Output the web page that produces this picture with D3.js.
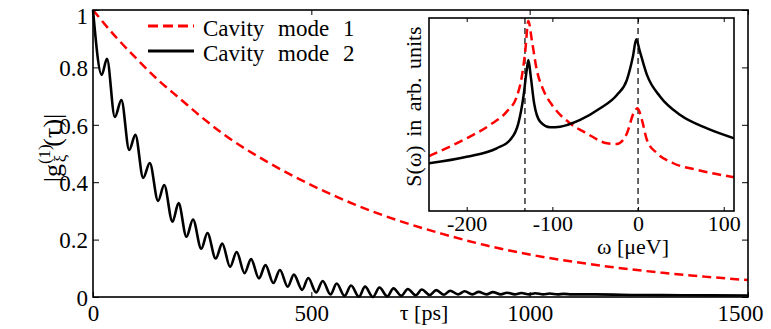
<!DOCTYPE html>
<html>
<head>
<meta charset="utf-8">
<script src="https://cdn.jsdelivr.net/npm/d3@7"></script>
<style>
  body { margin: 0; background: #fff; }
</style>
</head>
<body>
<div id="chart"></div>
<script>
// main panel: |g(1)(tau)| for the two cavity modes
const tauRed = [0, 50, 100, 150, 200, 250, 300, 400, 500, 600, 700, 800, 900, 1000, 1100, 1200, 1300, 1400, 1500];
const gRed = [1.0, 0.91, 0.83, 0.755, 0.69, 0.625, 0.566, 0.47, 0.39, 0.322, 0.266, 0.22, 0.18, 0.148, 0.123, 0.102, 0.085, 0.071, 0.059];

// peaks and valleys of the oscillating mode 2 curve
const tauBlack = [0, 20, 32, 50, 65, 83, 97, 115, 130, 149, 163, 182, 196, 214, 229, 248, 262, 281, 296, 314,
  329, 347, 362, 380, 395, 413, 428, 446, 460, 479, 493, 511, 526, 544, 558, 576, 591, 609, 623, 641,
  656, 674, 688, 706, 721, 739, 753, 771, 786, 804, 818, 836, 851, 869, 883, 901, 916, 934, 948, 966,
  981, 999, 1013, 1031, 1046, 1064, 1078, 1096, 1150, 1250, 1350, 1500];
const gBlack = [1.0, 0.774, 0.83, 0.627, 0.686, 0.512, 0.565, 0.415, 0.467, 0.335, 0.39, 0.262, 0.327, 0.21, 0.27, 0.168, 0.223, 0.134, 0.186, 0.105,
  0.157, 0.083, 0.132, 0.065, 0.111, 0.049, 0.094, 0.036, 0.078, 0.025, 0.066, 0.016, 0.056, 0.009, 0.047, 0.004, 0.040, 0.001, 0.036, 0.0,
  0.033, 0.002, 0.030, 0.004, 0.028, 0.006, 0.026, 0.007, 0.024, 0.008, 0.022, 0.009, 0.020, 0.009, 0.018, 0.009, 0.017, 0.009, 0.015, 0.009,
  0.014, 0.009, 0.013, 0.009, 0.012, 0.009, 0.011, 0.009, 0.009, 0.007, 0.006, 0.005];

const xTicks = [0, 500, 1000, 1500];
const yTicks = [0, 0.2, 0.4, 0.6, 0.8, 1];
const legendLabels = ["Cavity mode 1", "Cavity mode 2"];

// inset: spectra S(omega)
const omegaRed = [-244, -204, -172.8, -153.3, -141.6, -135.7, -131.9, -128, -124, -118.2, -110.5, -98.8, -79.3, -59.8, -36.4, -24.7, -13, -5.3, -0.6, 4.5, 10.4, 22, 40, 70, 112];
const sRed = [0.285, 0.368, 0.446, 0.515, 0.592, 0.696, 0.817, 0.985, 0.886, 0.731, 0.627, 0.54, 0.454, 0.402, 0.351, 0.347, 0.402, 0.506, 0.532, 0.472, 0.368, 0.3, 0.25, 0.212, 0.175];
const omegaBlack = [-244, -200, -165, -149.4, -139.7, -133.8, -129.9, -128, -125.2, -121.3, -114.3, -102.6, -90.9, -67.6, -44.2, -24.7, -13, -6, -2.1, 1.7, 10.4, 25.9, 49.3, 80.5, 112];
const sBlack = [0.247, 0.281, 0.325, 0.368, 0.454, 0.592, 0.731, 0.782, 0.696, 0.558, 0.463, 0.434, 0.437, 0.472, 0.532, 0.601, 0.679, 0.8, 0.89, 0.834, 0.705, 0.592, 0.497, 0.428, 0.377];
const omegaTicks = [-200, -100, 0, 100];
const omegaMarks = [-132, 0];

const FONT = "'Liberation Serif', 'Times New Roman', serif";

const width = 771, height = 329;
const svg = d3.select("#chart").append("svg")
  .attr("width", width)
  .attr("height", height)
  .style("font-family", FONT);

const x = d3.scaleLinear().domain([0, 1500]).range([93, 748]);
const y = d3.scaleLinear().domain([0, 1]).range([297, 10]);

const line = d3.line()
  .x(d => x(d[0]))
  .y(d => y(d[1]))
  .curve(d3.curveMonotoneX);

svg.append("path")
  .datum(tauRed.map((t, i) => [t, gRed[i]]))
  .attr("d", line)
  .attr("fill", "none")
  .attr("stroke", "#ff0000")
  .attr("stroke-width", 2.5)
  .attr("stroke-dasharray", "9,5");

svg.append("path")
  .datum(tauBlack.map((t, i) => [t, gBlack[i]]))
  .attr("d", line)
  .attr("fill", "none")
  .attr("stroke", "#000")
  .attr("stroke-width", 2.6)
  .attr("stroke-linejoin", "round");

// axes, ticks pointing inward
const fmt = d3.format("~g");
const gx = svg.append("g").attr("transform", `translate(0,${y(0)})`)
  .call(d3.axisBottom(x).tickValues(xTicks).tickSize(-5).tickPadding(6).tickFormat(fmt));
svg.append("g").attr("transform", `translate(0,${y(1)})`)
  .call(d3.axisTop(x).tickValues(xTicks).tickSize(-5).tickFormat(""));
const gy = svg.append("g").attr("transform", `translate(${x(0)},0)`)
  .call(d3.axisLeft(y).tickValues(yTicks).tickSize(-6).tickPadding(5).tickFormat(fmt));
svg.append("g").attr("transform", `translate(${x(1500)},0)`)
  .call(d3.axisRight(y).tickValues(yTicks).tickSize(-6).tickFormat(""));

svg.selectAll(".domain").remove();
svg.selectAll("g").attr("font-family", null);
svg.selectAll(".tick line").attr("stroke", "#000").attr("stroke-width", 1);
gx.selectAll("text").style("font-size", "23px").style("font-family", FONT).attr("dy", "0.78em");
gy.selectAll("text").style("font-size", "23px").style("font-family", FONT).attr("dy", "0.36em");
gy.selectAll(".tick").filter(d => d === 1).select("text").attr("dy", "0.58em");
gx.selectAll(".tick").filter(d => d === 1500).select("text").attr("dx", "-8");

svg.append("rect")
  .attr("x", x(0)).attr("y", y(1))
  .attr("width", x(1500) - x(0)).attr("height", y(0) - y(1))
  .attr("fill", "none").attr("stroke", "#000").attr("stroke-width", 1.6);

svg.append("text")
  .attr("x", 424).attr("y", 320)
  .attr("text-anchor", "middle")
  .style("font-size", "22px")
  .style("font-family", FONT)
  .text("τ [ps]");

// y label |g_ξ^(1)(τ)|
const ylab = svg.append("text")
  .attr("transform", "translate(61,148) rotate(-90)")
  .attr("text-anchor", "middle")
  .style("font-size", "26px")
  .style("font-family", FONT);
ylab.append("tspan").text("|g");
ylab.append("tspan").attr("dy", -11).style("font-size", "17px").text("(1)");
ylab.append("tspan").attr("dx", -18).attr("dy", 16).style("font-size", "17px").text("ξ");
ylab.append("tspan").attr("dx", 8).attr("dy", -5).text("(τ)|");

// legend
const legend = svg.append("g");
legendLabels.forEach((lab, i) => {
  const ly = 26 + i * 25;
  legend.append("line")
    .attr("x1", 148).attr("x2", 194).attr("y1", ly).attr("y2", ly)
    .attr("stroke", i === 0 ? "#ff0000" : "#000")
    .attr("stroke-width", i === 0 ? 3 : 3.2)
    .attr("stroke-dasharray", i === 0 ? "10,5" : null);
  legend.append("text")
    .attr("x", 203).attr("y", ly + 10)
    .style("font-size", "23px")
    .style("font-family", FONT)
    .style("word-spacing", "8px")
    .text(lab);
});

// inset
const xi = d3.scaleLinear().domain([-244, 112]).range([429, 734]);
const yi = d3.scaleLinear().domain([0, 1]).range([211, 18]);

const inset = svg.append("g");
inset.append("rect")
  .attr("x", xi(-244)).attr("y", yi(1))
  .attr("width", xi(112) - xi(-244)).attr("height", yi(0) - yi(1))
  .attr("fill", "#fff");

svg.append("defs").append("clipPath").attr("id", "inset-clip")
  .append("rect")
  .attr("x", xi(-244)).attr("y", yi(1))
  .attr("width", xi(112) - xi(-244)).attr("height", yi(0) - yi(1));

const plot = inset.append("g").attr("clip-path", "url(#inset-clip)");

plot.selectAll(".mark")
  .data(omegaMarks)
  .enter()
  .append("line")
  .attr("class", "mark")
  .attr("x1", d => xi(d)).attr("x2", d => xi(d))
  .attr("y1", yi(1)).attr("y2", yi(0))
  .attr("stroke", "#000").attr("stroke-width", 1.2)
  .attr("stroke-dasharray", "6,4");

const lineI = d3.line()
  .x(d => xi(d[0]))
  .y(d => yi(d[1]))
  .curve(d3.curveMonotoneX);

plot.append("path")
  .datum(omegaRed.map((w, i) => [w, sRed[i]]))
  .attr("d", lineI)
  .attr("fill", "none")
  .attr("stroke", "#ff0000")
  .attr("stroke-width", 2.5)
  .attr("stroke-dasharray", "9,5");

plot.append("path")
  .datum(omegaBlack.map((w, i) => [w, sBlack[i]]))
  .attr("d", lineI)
  .attr("fill", "none")
  .attr("stroke", "#000")
  .attr("stroke-width", 2.5);

const gxi = inset.append("g").attr("transform", `translate(0,${yi(0)})`)
  .call(d3.axisBottom(xi).tickValues(omegaTicks).tickSize(-4).tickPadding(5).tickFormat(d => String(d)));
inset.append("g").attr("transform", `translate(0,${yi(1)})`)
  .call(d3.axisTop(xi).tickValues(omegaTicks).tickSize(-4).tickFormat(""));
inset.selectAll(".domain").remove();
inset.selectAll("g").attr("font-family", null);
inset.selectAll(".tick line").attr("stroke", "#000");
gxi.selectAll("text").style("font-size", "22px").style("font-family", FONT).attr("dy", "0.66em");

inset.append("rect")
  .attr("x", xi(-244)).attr("y", yi(1))
  .attr("width", xi(112) - xi(-244)).attr("height", yi(0) - yi(1))
  .attr("fill", "none").attr("stroke", "#000").attr("stroke-width", 1.6);

inset.append("text")
  .attr("x", 633).attr("y", 254)
  .attr("text-anchor", "middle")
  .style("font-size", "22px")
  .style("font-family", FONT)
  .text("ω [μeV]");

inset.append("text")
  .attr("transform", `translate(421,${(yi(1) + yi(0)) / 2 - 8}) rotate(-90)`)
  .attr("text-anchor", "middle")
  .style("font-size", "22px")
  .style("font-family", FONT)
  .style("word-spacing", "3px")
  .text("S(ω) in arb. units");
</script>
</body>
</html>
